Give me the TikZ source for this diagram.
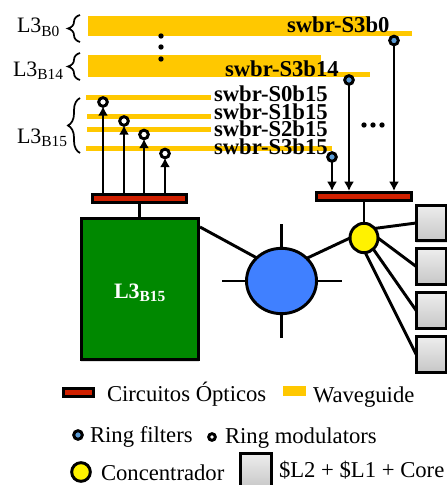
\documentclass[tikz,border=0pt]{standalone}
\usepackage{fontspec}
\setmainfont{Liberation Serif}
\usetikzlibrary{positioning}
\usetikzlibrary{arrows,arrows.meta}
\usetikzlibrary{shapes.geometric,calc}
\usetikzlibrary{decorations.pathreplacing}
\usetikzlibrary{shadows}
\definecolor{wgcolor}{RGB}{255,200,0}
\definecolor{circcolor}{RGB}{208,32,0}
\definecolor{ringcolor}{RGB}{91,155,213}
\definecolor{netcolor}{RGB}{64,128,255}
\definecolor{l3color}{RGB}{0,136,0}
\begin{document}
\begin{tikzpicture}[x=0.75pt,y=-0.75pt,every node/.style={outer sep=0pt},
 wire/.style={line width=2.2pt},
 wirearrow/.style={wire,-{Latex[length=7pt,width=7.5pt]}},
 softshadow/.style={drop shadow={opacity=0.25,shadow xshift=0pt,shadow yshift=-1.5pt}},
 optic/.style={draw,line width=2.2pt,fill=circcolor,inner sep=0pt},
 wgbar/.style={fill=wgcolor,draw=none},
 modring/.style={circle,draw,line width=2.2pt,fill=white,inner sep=0pt,minimum size=6.5pt},
 filtring/.style={circle,draw,line width=2.2pt,fill=ringcolor,inner sep=0pt,minimum size=6.5pt},
 corebox/.style={draw,line width=2.2pt,softshadow,top color=white!93!black,bottom color=white!78!black,
  inner sep=0pt,minimum width=23pt,minimum height=26.5pt},
 swlabel/.style={font=\bfseries\fontsize{17}{17}\selectfont,inner sep=0pt},
 lbl/.style={font=\fontsize{16.5}{16.5}\selectfont,inner sep=0pt},
 leg/.style={font=\fontsize{17}{17}\selectfont,inner sep=0pt},
 brace/.style={decorate,decoration={brace,amplitude=9pt},line width=1.3pt},
 dotty/.style={circle,fill=black,inner sep=0pt,minimum size=4pt}]
  \useasboundingbox (0,0) rectangle (446,485);

  % waveguides
  \fill[wgbar] (88,16) rectangle (369,36);
  \fill[wgbar] (369,31) rectangle (412,36);
  \fill[wgbar] (88,55) rectangle (321,77);
  \fill[wgbar] (321,72) rectangle (370,77);
  \fill[wgbar] (86,95) rectangle (211,100);
  \fill[wgbar] (87,114) rectangle (211,119);
  \fill[wgbar] (87,127) rectangle (211,132);
  \fill[wgbar] (86,146) rectangle (332,151);

  \node[swlabel,anchor=base west] (s3b0) at (287,33) {swbr-S3b0};
  \node[swlabel,anchor=base west] (s3b14) at (225,77) {swbr-S3b14};
  \node[swlabel,anchor=base west] (s0b15) at (214,101) {swbr-S0b15};
  \node[swlabel,anchor=base west] (s1b15) at (214,119) {swbr-S1b15};
  \node[swlabel,anchor=base west] (s2b15) at (214,136) {swbr-S2b15};
  \node[swlabel,anchor=base west] (s3b15) at (214,154) {swbr-S3b15};

  % braces and bank names
  \draw[brace] (80,42) -- (80,15);
  \draw[brace] (80,80) -- (80,53);
  \draw[brace] (80,153) -- (80,98);
  \node[lbl,anchor=base west] (lb0) at (17,33) {L3\textsubscript{B0}};
  \node[lbl,anchor=base west] (lb14) at (13,76) {L3\textsubscript{B14}};
  \node[lbl,anchor=base west] (lb15) at (17,143) {L3\textsubscript{B15}};

  \foreach \Y in {36,47,59}
   {\node[dotty] (vd\Y) at (161,\Y) {};}
  \foreach \X in {364,373,382}
   {\node[dotty] (hd\X) at (\X,125) {};}

  % optical circuits and rings
  \node[optic,minimum width=71pt,minimum height=6.5pt] (ol) at (139.5,198.5) {};
  \node[optic,minimum width=71.5pt,minimum height=6.5pt] (or) at (364,196.5) {};
  \foreach \X/\Y/\N in {103/102/1,124/121/2,144/134.5/3,165/153.5/4}
  {\node[modring] (m\N) at (\X,\Y) {};
   \coordinate (mb\N) at (\X,193);
   \draw[wirearrow] (mb\N) -- (m\N.south);
  }
  \foreach \X/\Y/\N in {394/40.5/1,349/80/2,332/157/3}
  {\node[filtring] (f\N) at (\X,\Y) {};
   \coordinate (fb\N) at (\X,191);
   \draw[wirearrow] (f\N.south) -- (fb\N);
  }

  % cluster
  \node[draw,line width=2.2pt,softshadow,fill=l3color,minimum width=88pt,minimum height=106pt,inner sep=0pt] (l3) at (140,289) {};
  \node[text=white,font=\bfseries\fontsize{16.5}{16.5}\selectfont,inner sep=0pt,anchor=base west] (l3txt) at (114,298) {L3\textsubscript{B15}};
  \node[ellipse,draw,line width=2.2pt,fill=netcolor,minimum width=52.5pt,minimum height=49pt,inner sep=0pt] (net) at (281.5,281) {};
  \node[ellipse,draw,line width=2.2pt,fill=yellow,minimum width=21pt,minimum height=22pt,inner sep=0pt] (conc) at (364,238) {};
  \node[corebox] (c1) at (431.5,223) {};
  \node[corebox] (c2) at (431.5,266.5) {};
  \node[corebox] (c3) at (431.5,310.5) {};
  \node[corebox] (c4) at (431.5,354.5) {};

  \draw[wire] (ol.south) -- (l3.north-|ol.south);
  \draw[wire] (or.south) -- (conc.north);
  \draw[wire] (net.42) -- (conc.west);
  \coordinate (l3p) at (200,227);
  \draw[wire] (net.137) -- (l3p);
  \coordinate (sp1) at (281.5,224);
  \coordinate (sp2) at (281.5,338);
  \coordinate (sp3) at (342,281);
  \coordinate (sp4) at (222,281);
  \draw[wire] (net.north) -- (sp1);
  \draw[wire] (net.south) -- (sp2);
  \draw[wire] (net.east) -- (sp3);
  \draw[wire] (net.west) -- (sp4);
  \draw[wire] (conc.42) -- (c1.west);
  \draw[wire] (conc.east) -- (c2.west);
  \draw[wire] (conc.-50) -- (c3.west);
  \draw[wire] (conc.-85) -- (c4.west);

  % legend
  \node[optic,minimum width=22.5pt,minimum height=6.5pt] (kopt) at (78.5,392.5) {};
  \node[leg,anchor=base west] (topt) at (107,401) {Circuitos Ópticos};
  \node[wgbar,minimum width=17pt,minimum height=7.5pt,inner sep=0pt] (kwg) at (294.5,391) {};
  \node[leg,anchor=base west] (twg) at (313,402) {Waveguide};
  \node[filtring] (kfil) at (78,435) {};
  \node[leg,anchor=base west] (tfil) at (90,442) {Ring filters};
  \node[modring,minimum size=5pt] (kmod) at (212,437) {};
  \node[leg,anchor=base west] (tmod) at (225,443) {Ring modulators};
  \node[circle,draw,line width=2.2pt,fill=yellow,inner sep=0pt,minimum size=14pt] (kcon) at (81,472) {};
  \node[leg,anchor=base west] (tcon) at (101,480) {Concentrador};
  \node[corebox] (kcore) at (256,471) {};
  \node[leg,anchor=base west] (tcore) at (279,477) {\$L2 + \$L1 + Core};
\end{tikzpicture}
\end{document}
